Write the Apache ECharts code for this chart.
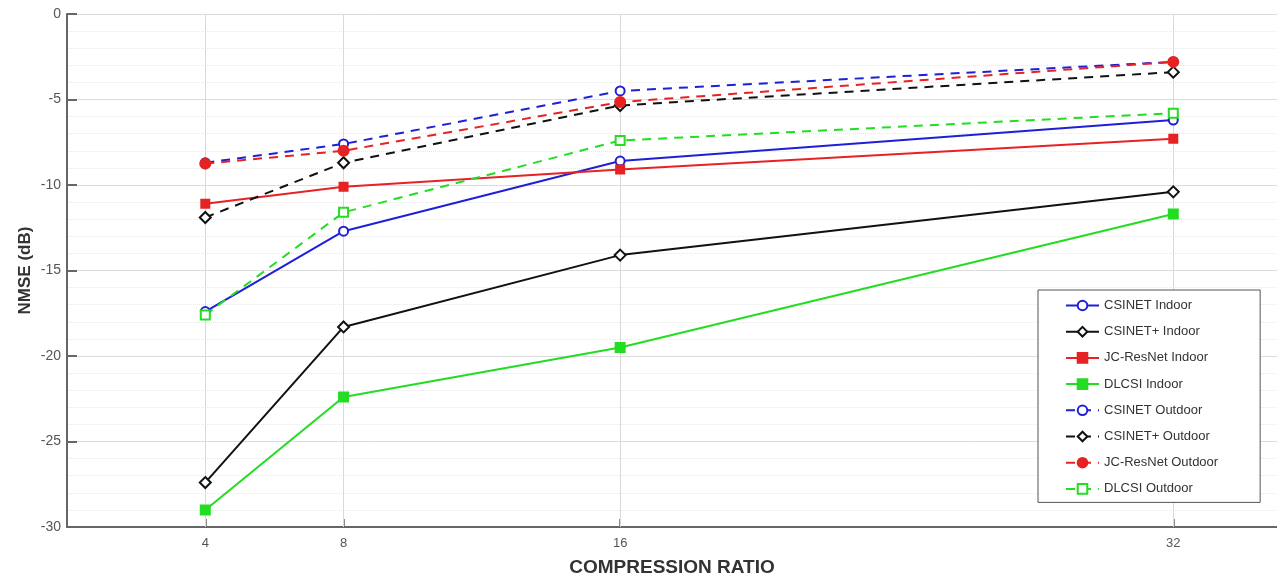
<!DOCTYPE html>
<html>
<head>
<meta charset="utf-8">
<script src="https://cdn.jsdelivr.net/npm/echarts@6/dist/echarts.min.js"></script>
<style>
html,body{margin:0;padding:0;background:#fff;}
#c{width:1277px;height:582px;}
</style>
</head>
<body>
<div id="c"></div>
<script>
const ratios = [4, 8, 16, 32];
const xTicks = [4, 8, 16, 32];
const csinetIndoor   = [-17.4, -12.7, -8.6, -6.2];
const csinetPIndoor  = [-27.4, -18.3, -14.1, -10.4];
const jcIndoor       = [-11.1, -10.1, -9.1, -7.3];
const dlcsiIndoor    = [-29.0, -22.4, -19.5, -11.7];
const csinetOutdoor  = [-8.7, -7.6, -4.5, -2.8];
const csinetPOutdoor = [-11.9, -8.7, -5.35, -3.4];
const jcOutdoor      = [-8.75, -8.0, -5.15, -2.8];
const dlcsiOutdoor   = [-17.6, -11.6, -7.4, -5.8];

const BLUE = '#1f1fd8', BLACK = '#111111', RED = '#e62222', GREEN = '#22dd22';

function pts(vals){ return ratios.map((r,i)=>[r, vals[i]]); }

function mk(name, vals, color, symbol, filled, dashed, size){
  return {
    name: name, type: 'line', data: pts(vals),
    symbol: symbol, symbolSize: size,
    showAllSymbol: true,
    lineStyle: {color: color, width: 2, type: dashed ? [9, 7] : 'solid'},
    itemStyle: {color: filled ? color : '#ffffff', borderColor: color, borderWidth: 2},
    emphasis: {disabled: true},
    z: 3
  };
}

const series = [
  mk('CSINET Indoor', csinetIndoor, BLUE, 'circle', false, false, 9),
  mk('CSINET+ Indoor', csinetPIndoor, BLACK, 'diamond', false, false, 11),
  mk('JC-ResNet Indoor', jcIndoor, RED, 'rect', true, false, 8),
  mk('DLCSI Indoor', dlcsiIndoor, GREEN, 'rect', true, false, 9),
  mk('CSINET Outdoor', csinetOutdoor, BLUE, 'circle', false, true, 9),
  mk('CSINET+ Outdoor', csinetPOutdoor, BLACK, 'diamond', false, true, 11),
  mk('JC-ResNet Outdoor', jcOutdoor, RED, 'circle', true, true, 10),
  mk('DLCSI Outdoor', dlcsiOutdoor, GREEN, 'rect', false, true, 9)
];
series[0].markLine = {
  silent: true, symbol: 'none', label: {show: false},
  lineStyle: {color: '#d9d9d9', type: 'solid', width: 1},
  data: xTicks.map(v => ({xAxis: v})),
  z: 1
};

const chart = echarts.init(document.getElementById('c'), null, {renderer: 'canvas'});
chart.setOption({
  backgroundColor: '#ffffff',
  animation: false,
  textStyle: {fontFamily: 'Liberation Sans, Arial, sans-serif'},
  grid: {left: 67, right: 0, top: 14, bottom: 55, containLabel: false, outerBoundsMode: 'none'},
  xAxis: {
    type: 'value', min: 0, max: 35, interval: 1,
    name: 'COMPRESSION RATIO', nameLocation: 'middle', nameGap: 31, nameMoveOverlap: false,
    nameTextStyle: {fontSize: 19, fontWeight: 'bold', color: '#333', fontFamily: 'Liberation Sans, Arial, sans-serif'},
    axisLine: {show: true, onZero: false, lineStyle: {color: '#666', width: 2}},
    axisTick: {show: true, inside: true, length: 8, customValues: xTicks, lineStyle: {color: '#666', width: 1.5}},
    axisLabel: {customValues: xTicks, fontSize: 13, color: '#555', margin: 10},
    splitLine: {show: true, lineStyle: {color: '#ececec', type: 'dotted', width: 1}}
  },
  yAxis: {
    type: 'value', min: -30, max: 0, interval: 5,
    name: 'NMSE (dB)', nameLocation: 'middle', nameGap: 33, nameRotate: 90, nameMoveOverlap: false,
    nameTextStyle: {fontSize: 17, fontWeight: 'bold', color: '#333', fontFamily: 'Liberation Sans, Arial, sans-serif'},
    axisLine: {show: true, lineStyle: {color: '#666', width: 2}},
    axisTick: {show: true, inside: true, length: 10, lineStyle: {color: '#666', width: 2}},
    axisLabel: {fontSize: 14, color: '#555', margin: 6},
    splitLine: {show: true, lineStyle: {color: '#dcdcdc', width: 1}},
    minorTick: {show: false, splitNumber: 5},
    minorSplitLine: {show: true, lineStyle: {color: '#e8e8e8', type: 'dotted', width: 1}}
  },
  legend: {
    orient: 'vertical', left: 1038, top: 290,
    backgroundColor: '#ffffff',
    borderColor: '#555', borderWidth: 1, borderRadius: 0,
    padding: [9, 42, 7, 27],
    itemWidth: 33, itemHeight: 12, itemGap: 13.2,
    textStyle: {fontSize: 13, color: '#333'},
    data: series.map(s => s.name)
  },
  series: series
});
</script>
</body>
</html>
